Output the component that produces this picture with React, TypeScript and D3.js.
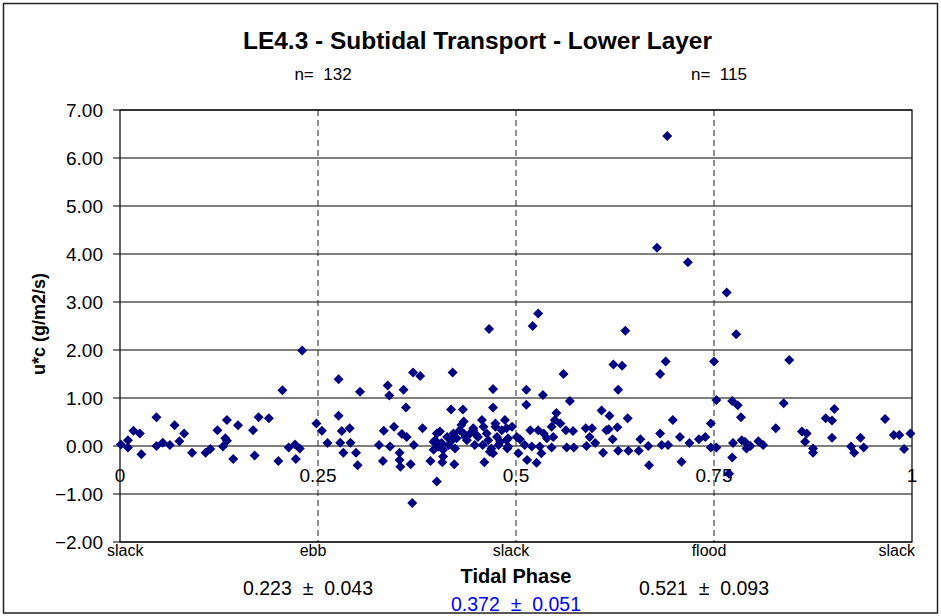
import React from "react";
import * as d3 from "d3";

// tidal phase (0-1) and u*c flux (g/m2/s)
const samples: [number, number][] = [
  [0.230, 1.99], [0.205, 1.16], [0.001, 0.03], [0.010, 0.12], [0.010, -0.03], [0.017, 0.32],
  [0.025, 0.26], [0.027, -0.17], [0.046, 0.60], [0.046, 0.0], [0.054, 0.07], [0.063, 0.02],
  [0.069, 0.43], [0.075, 0.10], [0.081, 0.26], [0.091, -0.14], [0.108, -0.14], [0.114, -0.06],
  [0.123, 0.33], [0.130, -0.01], [0.133, 0.16], [0.135, 0.11], [0.135, 0.54], [0.143, -0.27],
  [0.149, 0.43], [0.168, 0.33], [0.170, -0.20], [0.175, 0.60], [0.188, 0.58], [0.200, -0.31],
  [0.213, -0.03], [0.221, 0.03], [0.222, -0.27], [0.227, -0.05], [0.248, 0.47],
  [0.276, 1.39], [0.303, 1.13], [0.338, 1.26], [0.340, 1.05], [0.358, 1.17], [0.370, 1.53],
  [0.379, 1.46], [0.420, 1.53], [0.471, 1.19], [0.471, 0.80], [0.361, 0.80], [0.418, 0.76],
  [0.433, 0.76], [0.276, 0.63], [0.255, 0.32], [0.262, 0.06], [0.280, 0.31], [0.290, 0.37],
  [0.278, 0.07], [0.291, 0.07], [0.282, -0.14], [0.298, -0.14], [0.300, -0.40], [0.327, 0.02],
  [0.333, 0.32], [0.341, -0.01], [0.346, 0.40], [0.332, -0.31], [0.353, -0.14], [0.353, -0.29],
  [0.354, -0.43], [0.356, 0.25], [0.362, 0.19], [0.367, -0.38], [0.371, 0.02], [0.382, 0.37],
  [0.369, -1.19], [0.400, -0.74], [0.392, -0.31], [0.407, -0.34], [0.422, -0.38], [0.460, -0.34],
  [0.398, 0.12], [0.400, 0.26], [0.402, -0.01], [0.404, 0.30], [0.406, 0.06], [0.408, -0.08],
  [0.413, 0.19], [0.415, 0.02], [0.419, 0.12], [0.421, 0.26], [0.423, -0.05], [0.425, 0.16],
  [0.429, 0.33], [0.431, 0.44], [0.434, 0.26], [0.436, 0.19], [0.438, 0.12], [0.442, 0.26],
  [0.446, 0.33], [0.448, 0.02], [0.452, 0.19], [0.457, 0.54], [0.459, 0.40], [0.458, 0.02],
  [0.463, 0.26], [0.465, 0.12], [0.469, -0.05], [0.471, -0.15], [0.474, 0.40], [0.476, 0.19],
  [0.478, 0.02], [0.482, 0.33], [0.486, 0.54], [0.488, 0.12], [0.490, -0.01], [0.495, 0.40],
  [0.501, 0.19], [0.503, -0.15], [0.396, 0.09], [0.396, -0.08], [0.408, -0.22], [0.434, 0.51],
  [0.446, 0.37], [0.450, 0.23], [0.467, -0.12], [0.474, 0.47], [0.480, 0.09], [0.488, 0.37],
  [0.490, 0.16], [0.489, -0.05],
  [0.691, 6.46], [0.678, 4.13], [0.717, 3.83], [0.766, 3.20], [0.528, 2.76], [0.466, 2.44],
  [0.521, 2.50], [0.638, 2.40], [0.778, 2.33],
  [0.623, 1.70], [0.634, 1.67], [0.689, 1.76], [0.682, 1.50], [0.750, 1.76], [0.560, 1.50],
  [0.513, 1.17], [0.534, 1.06], [0.629, 1.17], [0.513, 0.86], [0.568, 0.94], [0.753, 0.96],
  [0.505, 0.14], [0.511, 0.02], [0.514, -0.29], [0.518, 0.33], [0.520, -0.01], [0.526, -0.35],
  [0.528, 0.33], [0.530, -0.01], [0.532, -0.15], [0.535, 0.26], [0.539, 0.16], [0.545, 0.40],
  [0.549, 0.54], [0.551, 0.69], [0.547, 0.19], [0.545, -0.03], [0.556, 0.47], [0.563, 0.33],
  [0.564, -0.03], [0.572, 0.31], [0.573, -0.03], [0.588, 0.37], [0.589, 0.0], [0.596, 0.37],
  [0.593, 0.19], [0.600, 0.06], [0.608, 0.74], [0.610, -0.14], [0.614, 0.33], [0.618, 0.63],
  [0.617, 0.35], [0.622, 0.14], [0.628, 0.39], [0.629, -0.10], [0.641, 0.58], [0.642, -0.10],
  [0.655, -0.10], [0.657, 0.14], [0.667, 0.0], [0.668, -0.40], [0.682, 0.26], [0.684, 0.02],
  [0.692, 0.02], [0.698, 0.54], [0.707, 0.19], [0.709, -0.33], [0.719, 0.06], [0.731, 0.14],
  [0.739, 0.19], [0.746, 0.47], [0.746, -0.03], [0.753, -0.03],
  [0.845, 1.79], [0.773, 0.94], [0.780, 0.85], [0.784, 0.60], [0.838, 0.89], [0.773, -0.24],
  [0.769, -0.58], [0.774, 0.06], [0.785, 0.12], [0.789, 0.09], [0.791, -0.05], [0.796, 0.0],
  [0.806, 0.10], [0.812, 0.02], [0.828, 0.37], [0.861, 0.30], [0.867, 0.26], [0.865, 0.09],
  [0.875, -0.05], [0.875, -0.14], [0.891, 0.58], [0.899, 0.53], [0.902, 0.77], [0.899, 0.17],
  [0.923, -0.01], [0.927, -0.14], [0.935, 0.17], [0.939, -0.03], [0.966, 0.56], [0.977, 0.23],
  [0.984, 0.23], [0.990, -0.06], [0.998, 0.26],
];

const yTicks = [-2, -1, 0, 1, 2, 3, 4, 5, 6, 7];
const xTicks = [0, 0.25, 0.5, 0.75, 1];
const xTickLabels = ["0", "0.25", "0.5", "0.75", "1"];
const dashedAt = [0.25, 0.5, 0.75];
const phaseNames = ["slack", "ebb", "slack", "flood", "slack"];
const counts = [
  { at: 0.25, label: "n=  132" },
  { at: 0.75, label: "n=  115" },
];
const stats = [
  { at: 0.25, label: "0.223  \u00b1  0.043", color: "#000", row: 0 },
  { at: 0.75, label: "0.521  \u00b1  0.093", color: "#000", row: 0 },
  { at: 0.5, label: "0.372  \u00b1  0.051", color: "#0000ff", row: 1 },
];

const W = 941;
const H = 616;
const margin = { top: 110, right: 29, bottom: 74, left: 120 };
const font = "'Liberation Sans', Arial, sans-serif";

export default function App() {
  const x = d3.scaleLinear().domain([0, 1]).range([margin.left, W - margin.right]);
  const y = d3.scaleLinear().domain([-2, 7]).range([H - margin.bottom, margin.top]);
  const fmt = d3.format(".2f");
  const diamond = d3.symbol(d3.symbolSquare, 50)();

  const [x0, x1] = x.range();
  const [yb, yt] = y.range();

  return (
    <svg
      width={W}
      height={H}
      style={{ position: "absolute", left: 0, top: 0, background: "#fff" }}
      fontFamily={font}
    >
      <rect x={3.5} y={3.5} width={934} height={609.5} fill="#fff" stroke="#222" strokeWidth={1.5} />

      {/* title and sample counts */}
      <text x={243} y={49} fontSize={23} fontWeight="bold" textLength={469} lengthAdjust="spacingAndGlyphs">
        LE4.3 - Subtidal Transport - Lower Layer
      </text>
      {counts.map((c) => (
        <text key={c.label} x={x(c.at) + 5} y={80} fontSize={17} textAnchor="middle" style={{ whiteSpace: "pre" }}>
          {c.label}
        </text>
      ))}

      {/* gridlines */}
      {yTicks.map((t) => (
        <g key={t}>
          <line x1={x0 - 7} x2={x1} y1={y(t)} y2={y(t)} stroke="#000" strokeWidth={1} />
          <text x={103} y={y(t)} dy="0.36em" fontSize={19} textAnchor="end">
            {fmt(t)}
          </text>
        </g>
      ))}
      {dashedAt.map((d) => (
        <line key={d} x1={x(d)} x2={x(d)} y1={yt} y2={yb} stroke="#222" strokeWidth={1} strokeDasharray="6,4" />
      ))}
      <rect x={x0} y={yt} width={x1 - x0} height={yb - yt} fill="none" stroke="#000" strokeWidth={1.2} />

      {/* phase values along the zero line */}
      {xTicks.map((t, i) => (
        <text key={t} x={x(t)} y={482} fontSize={19} textAnchor="middle">
          {xTickLabels[i]}
        </text>
      ))}

      {samples.map(([p, v], i) => (
        <path key={i} d={diamond} transform={`translate(${x(p)},${y(v)}) rotate(45)`} fill="#000080" />
      ))}

      {/* tidal stage names below the plot */}
      {phaseNames.map((n, i) => {
        const anchor = i === 0 ? "start" : i === phaseNames.length - 1 ? "end" : "middle";
        const px = i === 0 ? x0 - 13 : i === phaseNames.length - 1 ? x1 + 3 : x(xTicks[i]) - 5;
        return (
          <text key={i} x={px} y={556} fontSize={16} textAnchor={anchor}>
            {n}
          </text>
        );
      })}

      <text x={x(0.5)} y={583} fontSize={20} fontWeight="bold" textAnchor="middle">
        Tidal Phase
      </text>
      {stats.map((s) => (
        <text
          key={s.label}
          x={x(s.at) - 10 + (s.at === 0.5 ? 10 : 0)}
          y={s.row === 0 ? 595 : 611}
          fontSize={19.5}
          textAnchor="middle"
          fill={s.color}
          style={{ whiteSpace: "pre" }}
        >
          {s.label}
        </text>
      ))}

      <text transform={`translate(45,${324}) rotate(-90)`} fontSize={18} fontWeight="bold" textAnchor="middle">
        u*c (g/m2/s)
      </text>
    </svg>
  );
}
